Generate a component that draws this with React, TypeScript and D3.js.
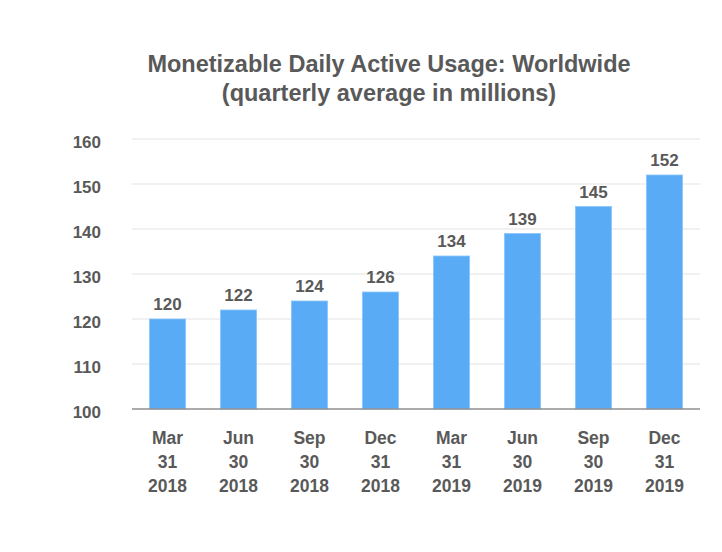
import React from "react";
import * as d3 from "d3";

const categories = [
  ["Mar", "31", "2018"],
  ["Jun", "30", "2018"],
  ["Sep", "30", "2018"],
  ["Dec", "31", "2018"],
  ["Mar", "31", "2019"],
  ["Jun", "30", "2019"],
  ["Sep", "30", "2019"],
  ["Dec", "31", "2019"],
];
const values = [120, 122, 124, 126, 134, 139, 145, 152];
const yTicks = [100, 110, 120, 130, 140, 150, 160];
const titleLines = [
  "Monetizable Daily Active Usage: Worldwide",
  "(quarterly average in millions)",
];

const W = 722;
const H = 552;
const left = 132;
const right = 700;
const top = 139;
const bottom = 409;
const font = "'Liberation Sans', Arial, sans-serif";
const textColor = "#595959";

export default function App() {
  const x = d3
    .scaleBand<number>()
    .domain(d3.range(categories.length))
    .range([left, right])
    .paddingInner(0.49)
    .paddingOuter(0.245);
  const y = d3.scaleLinear().domain([100, 160]).range([bottom, top]);

  return (
    <svg
      width={W}
      height={H}
      style={{ position: "absolute", left: 0, top: 0, background: "#fff" }}
      fontFamily={font}
    >
      {titleLines.map((t, i) => (
        <text
          key={i}
          x={389}
          y={72 + i * 28.5}
          textAnchor="middle"
          fontSize={23.5}
          fontWeight="bold"
          fill={textColor}
        >
          {t}
        </text>
      ))}
      {yTicks.map((t) => (
        <g key={t}>
          {t !== 100 && (
            <line
              x1={left}
              x2={right}
              y1={y(t)}
              y2={y(t)}
              stroke="#e3e3e3"
              strokeWidth={1.2}
            />
          )}
          <text
            x={101}
            y={y(t) + 9}
            textAnchor="end"
            fontSize={17}
            fontWeight="bold"
            fill={textColor}
          >
            {t}
          </text>
        </g>
      ))}
      {values.map((v, i) => (
        <g key={i}>
          <rect
            x={x(i)!}
            y={y(v)}
            width={x.bandwidth()}
            height={bottom - y(v)}
            fill="#5aabf6"
            stroke="#8cc6fa"
            strokeWidth={0.8}
          />
          <text
            x={x(i)! + x.bandwidth() / 2}
            y={y(v) - 9}
            textAnchor="middle"
            fontSize={17}
            fontWeight="bold"
            fill={textColor}
          >
            {v}
          </text>
          {categories[i].map((c, j) => (
            <text
              key={j}
              x={x(i)! + x.bandwidth() / 2}
              y={444 + j * 24}
              textAnchor="middle"
              fontSize={17.5}
              fontWeight="bold"
              fill={textColor}
            >
              {c}
            </text>
          ))}
        </g>
      ))}
      <line
        x1={left}
        x2={right}
        y1={bottom}
        y2={bottom}
        stroke="#8f8f8f"
        strokeWidth={1.5}
      />
    </svg>
  );
}
